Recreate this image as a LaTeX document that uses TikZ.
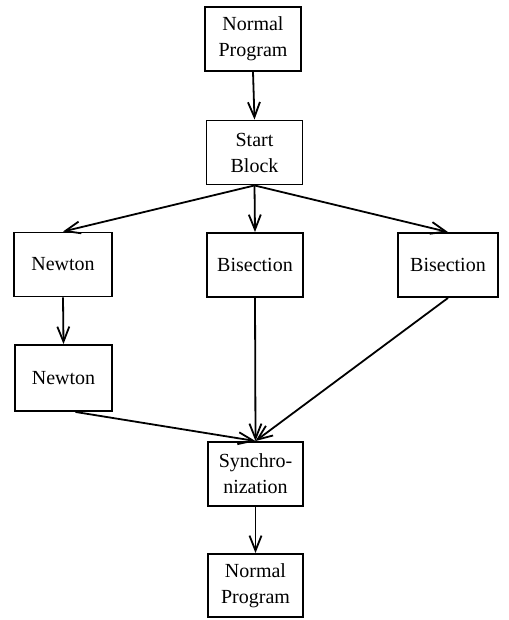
\documentclass[tikz,border=0pt]{standalone}
\usepackage{fontspec}
\setmainfont{Liberation Serif}
\usetikzlibrary{arrows.meta}
\begin{document}
\begin{tikzpicture}[x=1pt,y=-1pt,
  box/.style={draw,line width=1.9pt,minimum width=96pt,minimum height=64pt,inner sep=0pt,align=center,font=\fontsize{20}{26}\selectfont},
  conn/.style={line width=1.8pt,-{Straight Barb[length=15pt,width=12pt,line width=1.8pt]}}]
\useasboundingbox (0,0) rectangle (508,620);
\node[box] (n1) at (253,39) {Normal\\Program};
\node[box] (sb) at (254.5,152.5) {Start\\Block};
\node[box,minimum width=98pt] (nw1) at (63,264.5) {Newton};
\node[box] (bm) at (255,265) {Bisection};
\node[box,minimum width=100pt] (br) at (448,265) {Bisection};
\node[box,minimum width=97pt,minimum height=66pt] (nw2) at (63.5,378) {Newton};
\node[box,minimum width=95pt] (sy) at (255.5,474) {Synchro-\\nization};
\node[box,minimum width=95pt,minimum height=63pt] (n2) at (255.5,585.5) {Normal\\Program};
\draw[conn] (n1.south) -- (sb.north);
\draw[conn] (sb.south) -- (nw1.north);
\draw[conn] (sb.south) -- (bm.north);
\draw[conn] (sb.south) -- (br.north);
\draw[conn] (nw1.south) -- (nw2.north);
\draw[conn] (bm.south) -- (sy.north);
\draw[conn] (br.south) -- (sy.north);
\draw[conn] ([xshift=12pt]nw2.south) -- (sy.north);
\draw[conn] (sy.south) -- (n2.north);
\end{tikzpicture}
\end{document}
